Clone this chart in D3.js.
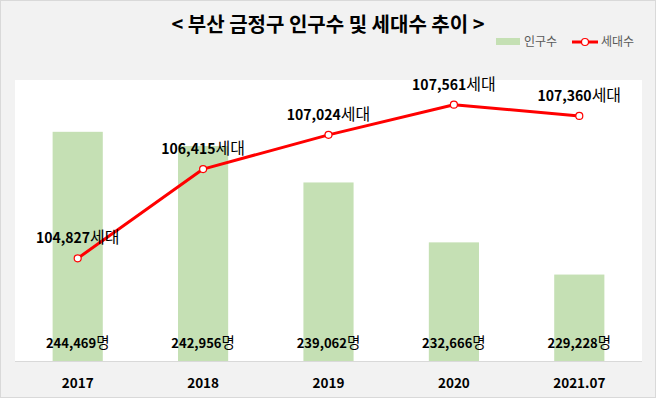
<!DOCTYPE html>
<html>
<head>
<meta charset="utf-8">
<script src="https://cdn.jsdelivr.net/npm/d3@7"></script>
<style>
  html, body { margin: 0; padding: 0; background: #ffffff; }
  svg { display: block; font-family: "Noto Sans CJK KR", "Noto Sans", sans-serif; }
</style>
</head>
<body>
<svg id="chart"></svg>
<script>
const width = 657;
const height = 399;

const years = ["2017", "2018", "2019", "2020", "2021.07"];
const population = [244469, 242956, 239062, 232666, 229228];
const households = [104827, 106415, 107024, 107561, 107360];
const popDomain = [220000, 250000];
const houseDomain = [103000, 108000];

const colors = {
  bar: "#c5e0b4",
  line: "#ff0000",
  frame: "#f2f2f2",
  border: "#d9d9d9",
  text: "#000000",
  legendText: "#595959"
};

const plot = { left: 15, right: 642, top: 80, bottom: 361 };

const svg = d3.select("#chart")
  .attr("width", width)
  .attr("height", height);

// outer frame
svg.append("rect")
  .attr("x", 0.5)
  .attr("y", 0.5)
  .attr("width", 655)
  .attr("height", 397)
  .attr("fill", colors.frame)
  .attr("stroke", colors.border);

// plot area
svg.append("rect")
  .attr("x", plot.left)
  .attr("y", plot.top)
  .attr("width", plot.right - plot.left)
  .attr("height", plot.bottom - plot.top)
  .attr("fill", "#ffffff");

const x = d3.scaleBand()
  .domain(years)
  .range([plot.left, plot.right])
  .paddingInner(0.6)
  .paddingOuter(0.3);

const yPop = d3.scaleLinear().domain(popDomain).range([plot.bottom, plot.top]);
const yHouse = d3.scaleLinear().domain(houseDomain).range([plot.bottom, plot.top]);

const cx = d => x(d) + x.bandwidth() / 2;

// bars
svg.append("g")
  .selectAll("rect")
  .data(years)
  .join("rect")
  .attr("x", d => x(d))
  .attr("y", (d, i) => yPop(population[i]))
  .attr("width", x.bandwidth())
  .attr("height", (d, i) => plot.bottom - yPop(population[i]))
  .attr("fill", colors.bar);

// x axis
const xAxis = svg.append("g")
  .attr("transform", `translate(0,${plot.bottom})`)
  .call(d3.axisBottom(x).tickSize(0).tickPadding(17));
xAxis.select(".domain")
  .attr("stroke", colors.border)
  .attr("d", `M${plot.left},0.5H${plot.right}`);
xAxis.selectAll("text")
  .attr("font-family", "'Noto Sans CJK KR', sans-serif")
  .attr("font-size", 13.5)
  .attr("font-weight", "bold")
  .attr("fill", colors.text);

// bar labels
const popLabels = svg.append("g")
  .selectAll("text")
  .data(years)
  .join("text")
  .attr("x", d => cx(d))
  .attr("y", 348)
  .attr("text-anchor", "middle")
  .attr("fill", colors.text);
popLabels.append("tspan")
  .attr("font-size", 13)
  .attr("font-weight", "bold")
  .text((d, i) => d3.format(",")(population[i]));
popLabels.append("tspan")
  .attr("font-size", 14.5)
  .text("명");

// line
const line = d3.line()
  .x(d => cx(d))
  .y((d, i) => yHouse(households[i]));

svg.append("path")
  .datum(years)
  .attr("d", line)
  .attr("fill", "none")
  .attr("stroke", colors.line)
  .attr("stroke-width", 3)
  .attr("stroke-linejoin", "round");

svg.append("g")
  .selectAll("circle")
  .data(years)
  .join("circle")
  .attr("cx", d => cx(d))
  .attr("cy", (d, i) => yHouse(households[i]))
  .attr("r", 3.5)
  .attr("fill", "#ffffff")
  .attr("stroke", colors.line)
  .attr("stroke-width", 1.2);

const houseLabels = svg.append("g")
  .selectAll("text")
  .data(years)
  .join("text")
  .attr("x", d => cx(d))
  .attr("y", (d, i) => yHouse(households[i]) - 15)
  .attr("text-anchor", "middle")
  .attr("fill", colors.text);
houseLabels.append("tspan")
  .attr("font-size", 14)
  .attr("font-weight", "bold")
  .text((d, i) => d3.format(",")(households[i]));
houseLabels.append("tspan")
  .attr("font-size", 16)
  .text("세대");

// title
svg.append("text")
  .attr("x", 328)
  .attr("y", 32)
  .attr("text-anchor", "middle")
  .attr("font-size", 20)
  .attr("font-weight", "bold")
  .attr("fill", colors.text)
  .text("< 부산 금정구 인구수 및 세대수 추이 >");

// legend
const legend = svg.append("g");
legend.append("rect")
  .attr("x", 496)
  .attr("y", 38)
  .attr("width", 24)
  .attr("height", 7)
  .attr("fill", colors.bar);
legend.append("text")
  .attr("x", 524)
  .attr("y", 46)
  .attr("font-size", 12)
  .attr("fill", colors.legendText)
  .text("인구수");
legend.append("line")
  .attr("x1", 572)
  .attr("x2", 598)
  .attr("y1", 42)
  .attr("y2", 42)
  .attr("stroke", colors.line)
  .attr("stroke-width", 3);
legend.append("circle")
  .attr("cx", 585)
  .attr("cy", 42)
  .attr("r", 3.5)
  .attr("fill", "#ffffff")
  .attr("stroke", colors.line)
  .attr("stroke-width", 1.2);
legend.append("text")
  .attr("x", 601)
  .attr("y", 46)
  .attr("font-size", 12)
  .attr("fill", colors.legendText)
  .text("세대수");
</script>
</body>
</html>
